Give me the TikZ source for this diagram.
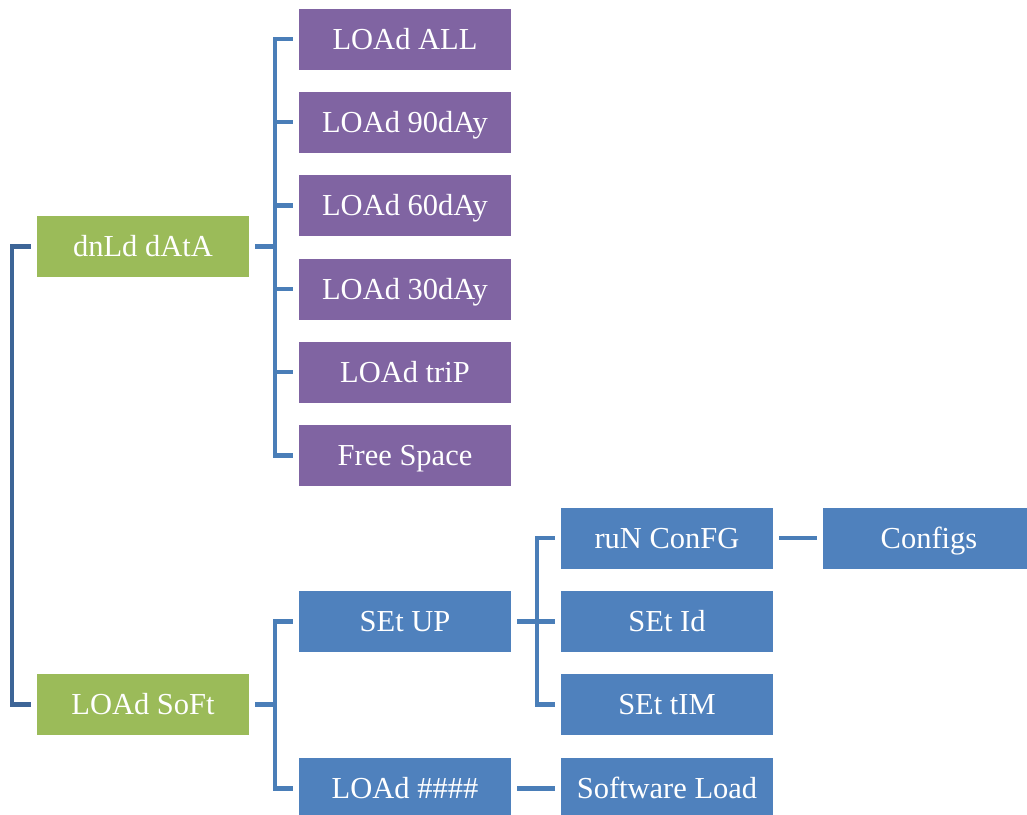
\documentclass[tikz,border=0pt]{standalone}
\usepackage{fontspec}
\setmainfont{Liberation Serif}
\usetikzlibrary{calc}
\definecolor{gbox}{RGB}{155,187,89}
\definecolor{pbox}{RGB}{128,100,162}
\definecolor{bbox}{RGB}{79,129,189}
\definecolor{cline}{RGB}{74,126,184}
\definecolor{rline}{RGB}{61,101,151}
\tikzset{
  box/.style={minimum width=212pt, minimum height=61pt, inner sep=0pt, text height=20.5pt, text depth=0pt, text=white, font=\fontsize{30.5}{34}\selectfont, anchor=center},
  gn/.style={box, fill=gbox},
  pn/.style={box, fill=pbox},
  bn/.style={box, fill=bbox},
  conn/.style={draw=cline, line width=4.5pt},
  rootconn/.style={draw=rline, line width=4.5pt}
}
\begin{document}
\begin{tikzpicture}[x=1pt,y=-1pt]
\useasboundingbox (0,0) rectangle (1027,814);
\clip (0,0) rectangle (1027,814);
% level 1
\node[gn] (dnld) at (143,246.5) {dnLd dAtA};
\node[gn] (soft) at (143,704.5) {LOAd SoFt};
% purple
\node[pn] (all) at (405,39) {LOAd ALL};
\node[pn] (d90) at (405,122) {LOAd 90dAy};
\node[pn] (d60) at (405,205.5) {LOAd 60dAy};
\node[pn] (d30) at (405,289) {LOAd 30dAy};
\node[pn] (trip) at (405,372) {LOAd triP};
\node[pn] (free) at (405,455.5) {Free Space};
% blue
\node[bn] (setup) at (405,621.5) {SEt UP};
\node[bn] (loadh) at (405,788.5) {LOAd \#\#\#\#};
\node[bn] (run) at (667,538) {ruN ConFG};
\node[bn] (setid) at (667,621.5) {SEt Id};
\node[bn] (settim) at (667,704.5) {SEt tIM};
\node[bn] (swl) at (667,788.5) {Software Load};
\node[bn] (cfg) at (929,538) {Configs};
% root bracket
\draw[rootconn] ([xshift=-6pt]dnld.west) -- ++(-19,0) |- ([xshift=-6pt]soft.west);
% dnld children
\foreach \c in {all,d90,d60,d30,trip,free}
  \draw[conn] ([xshift=6pt]dnld.east) -- ++(20,0) |- ([xshift=-6pt]\c.west);
% soft children
\foreach \c in {setup,loadh}
  \draw[conn] ([xshift=6pt]soft.east) -- ++(20,0) |- ([xshift=-6pt]\c.west);
% setup children
\foreach \c in {run,setid,settim}
  \draw[conn] ([xshift=6pt]setup.east) -- ++(20,0) |- ([xshift=-6pt]\c.west);
\draw[conn] ([xshift=6pt]run.east) -- ([xshift=-6pt]cfg.west);
\draw[conn] ([xshift=6pt]loadh.east) -- ([xshift=-6pt]swl.west);
\end{tikzpicture}
\end{document}
